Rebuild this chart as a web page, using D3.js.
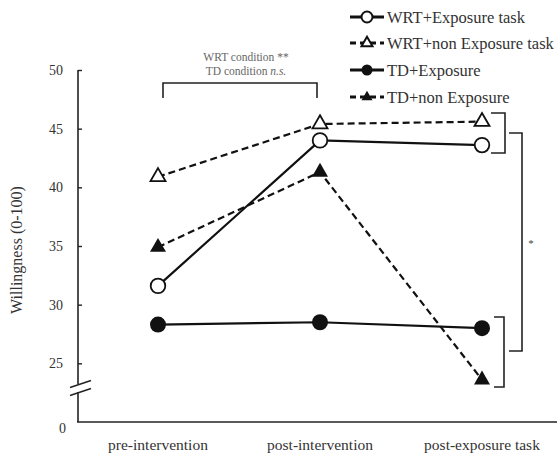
<!DOCTYPE html>
<html>
<head>
<meta charset="utf-8">
<script src="https://cdn.jsdelivr.net/npm/d3@7"></script>
<style>
  html, body { margin: 0; padding: 0; background: #fff; }
  svg { display: block; }
  text { font-family: "Liberation Serif", "DejaVu Serif", serif; }
</style>
</head>
<body>
<svg id="chart" width="557" height="456"></svg>
<script>
// ---- data ----
const categories = ["pre-intervention", "post-intervention", "post-exposure task"];
const seriesNames = ["WRT+Exposure task", "WRT+non Exposure task", "TD+Exposure", "TD+non Exposure"];
const wrtExposure = [31.6, 44.0, 43.6];
const wrtNonExposure = [40.9, 45.4, 45.6];
const tdExposure = [28.3, 28.5, 28.0];
const tdNonExposure = [34.9, 41.3, 23.6];
const yTicks = [25, 30, 35, 40, 45, 50];
const yBreakValue = 20;      // axis origin shown as "0"
const yBreakLabel = "0";

const series = [
  { name: seriesNames[0], values: wrtExposure, shape: "circle", filled: false, dashed: false },
  { name: seriesNames[1], values: wrtNonExposure, shape: "triangle", filled: false, dashed: true },
  { name: seriesNames[2], values: tdExposure, shape: "circle", filled: true, dashed: false },
  { name: seriesNames[3], values: tdNonExposure, shape: "triangle", filled: true, dashed: true }
];

const svg = d3.select("#chart");
const axisX = 78, axisBottom = 422, axisTop = 70;

const x = d3.scalePoint().domain(categories).range([77, 563]).padding(0.5);
const y = d3.scaleLinear().domain([yBreakValue, 50]).range([axisBottom, axisTop]);

const textCol = "#333";

// ---- y axis with break ----
const breakTop = 384, breakBot = 392;
svg.append("line").attr("x1", axisX).attr("x2", axisX).attr("y1", axisTop).attr("y2", breakTop)
  .attr("stroke", "#222").attr("stroke-width", 1.6);
svg.append("line").attr("x1", axisX).attr("x2", axisX).attr("y1", breakBot).attr("y2", axisBottom)
  .attr("stroke", "#222").attr("stroke-width", 1.6);
[breakTop, breakBot].forEach(b => {
  svg.append("line").attr("x1", axisX - 8).attr("y1", b + 3.5).attr("x2", axisX + 13).attr("y2", b - 3.5)
    .attr("stroke", "#222").attr("stroke-width", 1.6);
});
// ticks (inward)
const yAxisG = svg.append("g").attr("transform", `translate(${axisX},0)`)
  .call(d3.axisRight(y).tickValues(yTicks).tickSize(4).tickFormat(""));
yAxisG.select(".domain").remove();
yAxisG.selectAll(".tick line").attr("stroke", "#222").attr("stroke-width", 1.4);
// tick labels
svg.append("g").selectAll("text").data(yTicks).join("text")
  .attr("x", 63).attr("y", d => y(d)).attr("dy", "0.35em")
  .attr("text-anchor", "end").attr("font-size", 14).attr("fill", textCol)
  .text(d => d);
svg.append("text").attr("x", 66).attr("y", y(yBreakValue) + 6).attr("dy", "0.35em")
  .attr("text-anchor", "end").attr("font-size", 14).attr("fill", textCol).text(yBreakLabel);

// y title
svg.append("text").attr("transform", `translate(22,250) rotate(-90)`)
  .attr("text-anchor", "middle").attr("font-size", 16).attr("fill", textCol)
  .text("Willingness (0-100)");

// ---- x axis ----
svg.append("line").attr("x1", axisX - 1).attr("x2", 557).attr("y1", axisBottom).attr("y2", axisBottom)
  .attr("stroke", "#222").attr("stroke-width", 1.6);
svg.append("g").selectAll("text").data(categories).join("text")
  .attr("x", d => x(d)).attr("y", 450)
  .attr("text-anchor", "middle").attr("font-size", 15.5).attr("fill", textCol)
  .text(d => d);

// ---- lines ----
const line = d3.line().x((d, i) => x(categories[i])).y(d => y(d));
const triPath = (s) => {
  const h = s * Math.sqrt(3) / 2;
  return `M0,${-h * 2 / 3}L${s / 2},${h / 3}L${-s / 2},${h / 3}Z`;
};

series.forEach(s => {
  svg.append("path").datum(s.values).attr("d", line)
    .attr("fill", "none").attr("stroke", "#111").attr("stroke-width", 2.2)
    .attr("stroke-dasharray", s.dashed ? "7,4" : null);
});
series.forEach(s => {
  const g = svg.append("g");
  s.values.forEach((v, i) => {
    const cx = x(categories[i]), cy = y(v);
    if (s.shape === "circle") {
      g.append("circle").attr("cx", cx).attr("cy", cy).attr("r", s.filled ? 8 : 7.3)
        .attr("fill", s.filled ? "#111" : "#fff").attr("stroke", "#111").attr("stroke-width", s.filled ? 0 : 1.8);
    } else {
      g.append("path").attr("transform", `translate(${cx},${cy})`).attr("d", triPath(s.filled ? 16 : 15))
        .attr("fill", s.filled ? "#111" : "#fff").attr("stroke", "#111").attr("stroke-width", s.filled ? 0 : 1.8);
    }
  });
});

// ---- legend ----
const legY = [17, 43, 70, 97];
series.forEach((s, i) => {
  const g = svg.append("g").attr("transform", `translate(0,${legY[i]})`);
  g.append("line").attr("x1", 350).attr("x2", 384).attr("y1", 0).attr("y2", 0)
    .attr("stroke", "#111").attr("stroke-width", 3).attr("stroke-dasharray", s.dashed ? "6,4" : null);
  if (s.shape === "circle") {
    g.append("circle").attr("cx", 367).attr("cy", 0).attr("r", 5.5)
      .attr("fill", s.filled ? "#111" : "#fff").attr("stroke", "#111").attr("stroke-width", s.filled ? 0 : 2);
  } else {
    g.append("path").attr("transform", `translate(367,0)`).attr("d", triPath(11))
      .attr("fill", s.filled ? "#111" : "#fff").attr("stroke", "#111").attr("stroke-width", s.filled ? 0 : 2);
  }
  g.append("text").attr("x", 387).attr("y", 0).attr("dy", "0.35em")
    .attr("font-size", 16.5).attr("fill", textCol).text(s.name);
});

// ---- annotations ----
const bx1 = x(categories[0]) + 5, bx2 = x(categories[1]) - 3;
svg.append("path").attr("d", `M${bx1},98V83H${bx2}V98`).attr("fill", "none")
  .attr("stroke", "#222").attr("stroke-width", 1.6);
const ann = svg.append("text").attr("text-anchor", "middle").attr("font-size", 11.5).attr("fill", "#666");
ann.append("tspan").attr("x", 246).attr("y", 61).text("WRT condition **");
const t2 = ann.append("tspan").attr("x", 246).attr("y", 75);
t2.append("tspan").text("TD condition ");
t2.append("tspan").attr("font-style", "italic").text("n.s.");

// right brackets
const rb = (yTop, yBot, x0, x1) => `M${x0},${yTop}H${x1}V${yBot}H${x0}`;
svg.append("path").attr("d", rb(113, 153, 491, 505)).attr("fill", "none").attr("stroke", "#222").attr("stroke-width", 1.6);
svg.append("path").attr("d", rb(317, 387, 494, 504)).attr("fill", "none").attr("stroke", "#222").attr("stroke-width", 1.6);
svg.append("path").attr("d", rb(133, 351, 509, 522)).attr("fill", "none").attr("stroke", "#222").attr("stroke-width", 1.6);
svg.append("text").attr("x", 531).attr("y", 247).attr("text-anchor", "middle")
  .attr("font-size", 11).attr("fill", "#444").text("*");
</script>
</body>
</html>
